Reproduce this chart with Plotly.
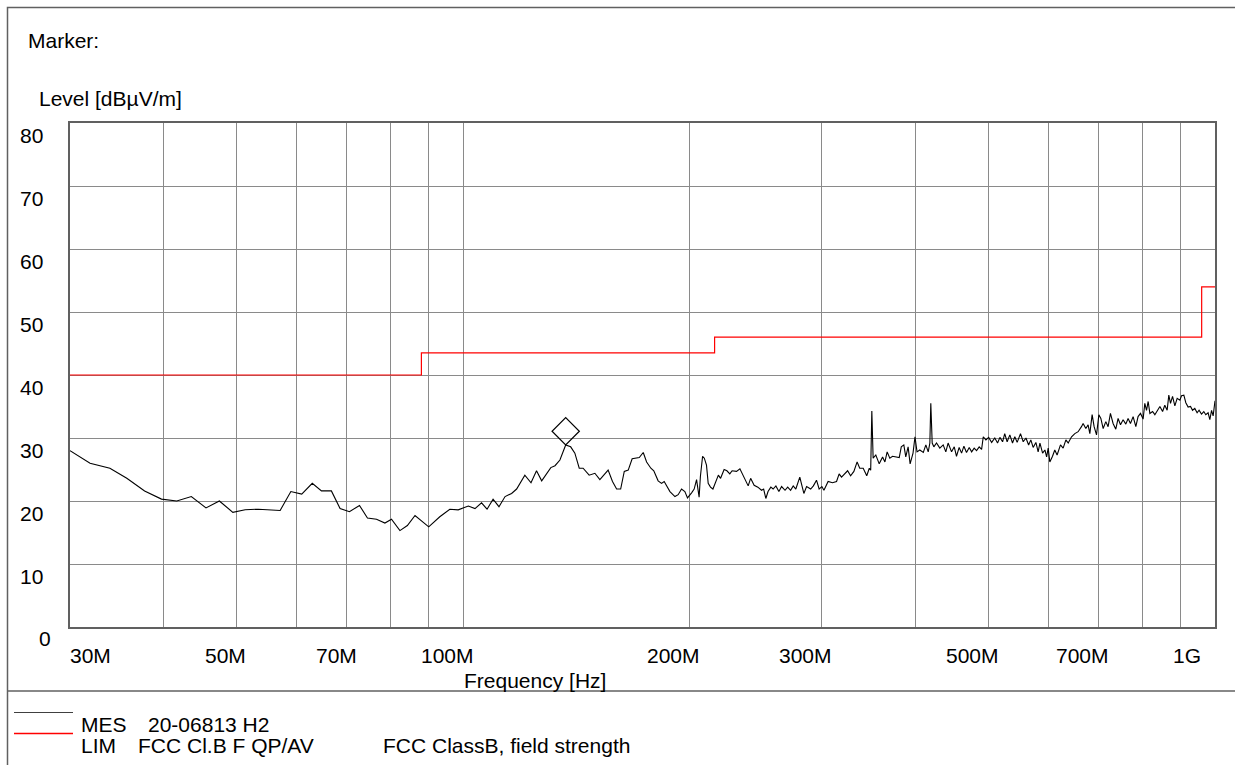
import math
import plotly.graph_objects as go

# ---------------- data ----------------
# Measurement trace (MES 20-06813 H2), frequency in MHz, level in dBuV/m
mes_freq_low = [
    30.0, 31.9, 33.9, 35.7, 37.7, 39.7, 41.6, 43.5, 45.5, 47.4, 49.4, 51.3, 53.4, 57.1,
    59.0, 61.0, 63.0, 64.8, 66.8, 68.6, 70.6, 72.8, 74.6, 76.7, 78.7, 80.3, 82.4, 84.3,
    86.3, 88.3, 90.0, 93.1, 96.0, 98.5, 101.6, 103.7, 105.8, 107.6, 109.6, 111.6, 113.7,
    116.0, 117.8, 120.8, 123.1, 125.2, 127.2, 130.8, 132.5, 134.5, 136.9, 139.0, 140.8,
    142.7, 144.4, 147.1, 149.7, 152.0, 155.9, 158.0, 160.0, 162.0, 163.8, 165.8, 167.8,
    171.5, 173.6, 175.4, 177.7, 179.3, 181.7, 183.6, 185.1, 188.4, 191.3, 193.2, 195.2,
    197.2, 198.8, 201.3, 202.9, 204.4, 206.0, 206.8, 208.2, 209.3, 210.7, 211.8, 213.3,
    214.9, 217.3, 218.5, 220.0, 222.4, 224.3, 226.3, 227.9, 231.0, 233.4, 236.0, 239.4,
    241.2, 243.8, 246.6, 249.4, 251.0, 252.7, 254.4, 256.6, 258.4, 260.6, 263.0, 265.2,
    268.0, 270.2, 272.6, 274.8, 277.0, 280.4, 283.9, 286.3, 289.9, 292.3, 295.1, 297.5,
]
mes_level_low = [
    28.0, 26.0, 25.2, 23.6, 21.6, 20.3, 20.0, 20.7, 18.9, 20.0, 18.2, 18.6, 18.7, 18.5,
    21.5, 21.1, 22.8, 21.6, 21.6, 18.8, 18.3, 19.3, 17.3, 17.1, 16.5, 17.1, 15.3, 16.1,
    17.7, 16.7, 15.9, 17.5, 18.7, 18.6, 19.2, 18.8, 19.7, 18.7, 20.3, 19.1, 20.7,
    21.2, 21.9, 24.1, 22.9, 24.8, 23.2, 25.3, 25.6, 26.5, 28.9, 28.6, 27.6,
    25.2, 25.2, 24.1, 24.4, 23.4, 24.9, 23.1, 21.9, 21.9, 24.7, 24.9, 26.7,
    26.9, 27.7, 26.2, 25.2, 24.8, 23.2, 22.8, 23.1, 21.5, 20.7, 21.0, 21.9,
    21.5, 20.5, 21.3, 21.9, 23.4, 20.6, 23.9, 27.1, 26.8, 25.7, 22.8, 22.2,
    21.9, 23.3, 24.1, 23.6, 25.0, 24.8, 24.3, 24.8, 24.7, 25.1, 24.0, 22.4,
    23.6, 22.5, 22.2, 21.7, 21.9, 20.4, 21.5, 22.2, 21.9, 22.4, 21.5, 22.3,
    21.7, 22.2, 21.7, 22.4, 21.9, 23.8, 21.2, 22.3, 21.9, 22.4, 23.3, 21.9,
]
mes_freq_high = [
    300.0, 301.9, 305.8, 309.9, 313.8, 316.3, 318.6, 321.4, 324.6, 327.6, 330.9, 334.2,
    336.9, 340.5, 344.2, 346.9, 348.4, 349.6, 351.0, 353.9, 357.6, 361.3, 363.9, 366.4,
    369.4, 372.5, 376.3, 380.2, 382.6, 385.6, 387.9, 390.7, 393.1, 396.6, 399.0, 401.5,
    404.9, 409.3, 412.5, 415.5, 417.6, 418.8, 420.6, 422.7, 426.2, 430.5, 435.0, 438.5,
    441.6, 446.3, 450.0, 453.1, 456.8, 460.2, 463.5, 467.2, 471.1, 474.6, 478.3, 481.8,
    485.7, 489.3, 491.8, 495.8, 500.0, 504.6, 509.5, 513.8, 517.5, 521.8, 525.2, 529.1,
    533.5, 537.9, 541.7, 545.6, 551.2, 555.8, 560.5, 565.1, 568.9, 573.0, 577.8, 581.8,
    585.0, 589.8, 594.0, 597.1, 600.0, 603.0, 608.0, 612.2, 616.6, 621.7, 623.0, 628.1,
    633.4, 637.9, 644.5, 651.0, 657.6, 664.4, 667.7, 673.3, 678.0, 681.6, 686.4, 690.6,
    695.7, 700.7, 705.0, 710.0, 715.8, 720.8, 726.0, 731.9, 738.0, 743.2, 748.7, 754.7,
    761.0, 766.3, 771.9, 778.2, 784.7, 790.1, 796.0, 802.4, 806.6, 810.8, 814.9, 819.2,
    826.0, 831.8, 837.7, 844.7, 851.7, 857.5, 863.7, 868.1, 872.6, 878.1, 884.3, 890.6,
    898.0, 902.6, 909.0, 914.5, 921.0, 927.8, 933.6, 940.0, 946.7, 952.4, 959.5, 966.3,
    972.2, 979.1, 984.3, 989.5, 994.3, 1000.0,
]
mes_level_high = [
    22.3, 21.7, 23.1, 22.9, 23.1, 24.3, 23.8, 24.3, 24.8, 24.0, 24.7, 26.2,
    25.2, 25.2, 24.0, 25.2, 24.9, 34.3, 26.8, 27.3, 25.9, 27.0, 26.2, 27.8,
    26.8, 27.1, 27.0, 26.9, 28.6, 28.9, 27.0, 28.6, 25.9, 27.6, 30.2, 27.8,
    28.1, 27.7, 28.9, 27.8, 29.2, 35.5, 29.2, 28.6, 29.2, 28.4, 28.9, 27.8,
    29.2, 27.8, 28.6, 27.1, 28.5, 27.6, 28.7, 27.7, 28.5, 27.8, 28.4, 28.0,
    28.6, 28.2, 30.2, 29.7, 30.1, 29.3, 30.0, 29.2, 30.1, 29.4, 30.7, 29.4,
    30.5, 29.2, 30.2, 29.3, 30.7, 29.4, 30.0, 28.9, 29.7, 28.5, 29.3, 27.8,
    29.2, 27.6, 28.1, 27.0, 28.4, 26.2, 27.1, 28.1, 27.3, 28.4, 28.9, 28.4,
    29.7, 29.2, 30.2, 30.7, 31.0, 31.8, 32.3, 31.5, 32.1, 30.7, 33.7, 31.8,
    30.5, 33.7, 33.1, 31.5, 32.6, 31.8, 33.9, 32.3, 31.4, 33.1, 32.1, 32.9,
    32.2, 33.1, 32.3, 33.4, 31.8, 33.4, 33.9, 33.0, 35.5, 34.4, 35.8, 33.9,
    34.2, 33.7, 34.4, 35.0, 34.2, 35.2, 34.4, 36.8, 35.5, 36.6, 35.1, 36.3,
    36.0, 36.7, 36.8, 35.6, 34.9, 35.0, 34.4, 34.7, 34.0, 34.4, 33.8, 34.2,
    33.7, 34.0, 32.9, 34.4, 33.5, 35.9,
]

# Limit line (LIM FCC Cl.B F QP/AV), step function
lim_freq = [30, 88, 216, 960, 1000]
lim_level = [40.0, 43.5, 46.0, 54.0, 54.0]

# Marker (peak)
marker_freq = [136.9]
marker_level = [28.9]

# Axis ticks
x_grid_vals = [40, 50, 60, 70, 80, 90, 100, 200, 300, 400, 500, 600, 700, 800, 900]
x_label_vals = [30, 50, 70, 100, 200, 300, 500, 700, 1000]
x_label_text = ["30M", "50M", "70M", "100M", "200M", "300M", "500M", "700M", "1G"]
y_vals = [0, 10, 20, 30, 40, 50, 60, 70, 80]
y_text = ["0", "10", "20", "30", "40", "50", "60", "70", "80"]

# ---------------- layout helpers ----------------
W, H = 1235, 765
L, R, T, B = 70, 1215, 123, 627
PW, PH = R - L, B - T


def px_x(p):
    return (p - L) / PW


def px_y(p):
    return (B - p) / PH


FONT = "Liberation Sans, Arial, sans-serif"
FS = 21

mes_freq = mes_freq_low + mes_freq_high
mes_level = mes_level_low + mes_level_high

fig = go.Figure()

fig.add_trace(go.Scatter(
    x=lim_freq, y=lim_level, mode="lines",
    line=dict(color="#ff0000", width=1.2, shape="hv"),
    hoverinfo="skip",
))
fig.add_trace(go.Scatter(
    x=mes_freq, y=mes_level, mode="lines",
    line=dict(color="#000000", width=1.1),
    hoverinfo="skip",
))

# marker diamond drawn just above the peak it marks
diamond_size = 21
px_per_db = PH / 80.0
offset_db = (1.3 * diamond_size / 2) / px_per_db
fig.add_trace(go.Scatter(
    x=marker_freq, y=[v + offset_db for v in marker_level], mode="markers",
    marker=dict(symbol="diamond-open", size=diamond_size,
                line=dict(color="#000000", width=1.2), color="#000000"),
    hoverinfo="skip",
))

annotations = []

# x tick labels
x_shift = {"30M": 0, "50M": -11, "70M": -10, "1G": -28}
for v, t in zip(x_label_vals, x_label_text):
    if t == "30M":
        annotations.append(dict(x=math.log10(v), y=px_y(655), xref="x", yref="paper",
                                text=t, showarrow=False, xanchor="left", yanchor="middle",
                                xshift=-2))
    else:
        annotations.append(dict(x=math.log10(v), y=px_y(655), xref="x", yref="paper",
                                text=t, showarrow=False, xanchor="center", yanchor="middle",
                                xshift=x_shift.get(t, -16)))

# y tick labels
for v, t in zip(y_vals, y_text):
    if t == "0":
        annotations.append(dict(x=px_x(45), y=v, xref="paper", yref="y", text=t,
                                showarrow=False, xanchor="center", yanchor="middle",
                                yshift=-11))
    else:
        annotations.append(dict(x=px_x(45), y=v, xref="paper", yref="y", text=t,
                                showarrow=False, xanchor="right", yanchor="middle",
                                yshift=-12))


def text_at(t, left_px, mid_px):
    annotations.append(dict(x=px_x(left_px - 2), y=px_y(mid_px), xref="paper", yref="paper",
                            text=t, showarrow=False, xanchor="left", yanchor="middle"))


text_at("Marker:", 28, 41)
text_at("Level [dBµV/m]", 39, 99)
text_at("Frequency [Hz]", 464, 680)
text_at("MES", 81, 724)
text_at("20-06813 H2", 148, 724)
text_at("LIM", 81, 745.5)
text_at("FCC Cl.B F QP/AV", 138, 745.5)
text_at("FCC ClassB, field strength", 383, 745.5)

frame_col = "#606060"
shapes = [
    # outer frame
    dict(type="rect", xref="paper", yref="paper",
         x0=px_x(7.5), x1=px_x(1240), y0=px_y(7.5), y1=px_y(800),
         line=dict(color=frame_col, width=1.5), fillcolor="rgba(0,0,0,0)", layer="below"),
    # divider above legend area
    dict(type="line", xref="paper", yref="paper",
         x0=px_x(7.5), x1=px_x(1240), y0=px_y(691), y1=px_y(691),
         line=dict(color=frame_col, width=1.5)),
    # legend sample lines
    dict(type="line", xref="paper", yref="paper",
         x0=px_x(14), x1=px_x(73), y0=px_y(712.5), y1=px_y(712.5),
         line=dict(color="#404040", width=1)),
    dict(type="line", xref="paper", yref="paper",
         x0=px_x(14), x1=px_x(73), y0=px_y(733.5), y1=px_y(733.5),
         line=dict(color="rgb(255,0,0)", width=1.5)),
]

fig.update_layout(
    width=W, height=H,
    margin=dict(l=L, r=W - R, t=T, b=H - B, pad=0),
    paper_bgcolor="white", plot_bgcolor="white",
    showlegend=False,
    font=dict(family=FONT, size=FS, color="#000000"),
    annotations=annotations,
    shapes=shapes,
    xaxis=dict(type="log", range=[math.log10(30), math.log10(1000)],
               tickmode="array", tickvals=x_grid_vals, showticklabels=False,
               ticks="", showgrid=True, gridcolor="#8a8a8a", gridwidth=1,
               showline=True, mirror=True, linecolor=frame_col, linewidth=1.5,
               zeroline=False, fixedrange=True),
    yaxis=dict(range=[0, 80], tickmode="array", tickvals=y_vals, showticklabels=False,
               ticks="", showgrid=True, gridcolor="#8a8a8a", gridwidth=1,
               showline=True, mirror=True, linecolor=frame_col, linewidth=1.5,
               zeroline=False, fixedrange=True),
)

fig.write_html(
    "out.html",
    config={"displayModeBar": False},
    post_script="document.body.style.margin='0';document.body.style.overflow='hidden';",
)
